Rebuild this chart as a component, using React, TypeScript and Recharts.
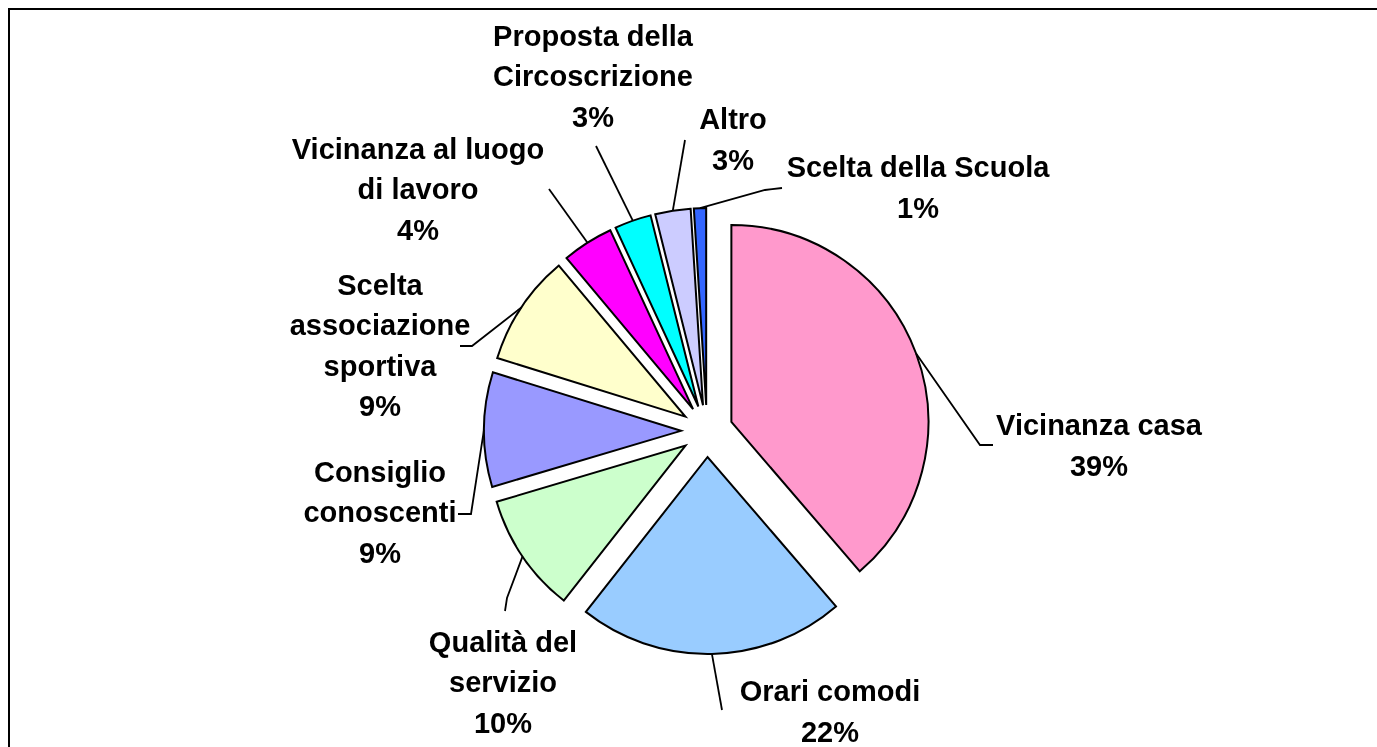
import { PieChart, Pie, Cell } from 'recharts';

const categories = [
  'Vicinanza casa',
  'Orari comodi',
  'Qualità del servizio',
  'Consiglio conoscenti',
  'Scelta associazione sportiva',
  'Vicinanza al luogo di lavoro',
  'Proposta della Circoscrizione',
  'Altro',
  'Scelta della Scuola',
];
const shares = [38.7, 21.9, 9.8, 9.4, 9.1, 4.2, 3.0, 2.9, 1.0];

// how each category name wraps in the original labels
const labelText = [
  ['Vicinanza casa'],
  ['Orari comodi'],
  ['Qualità del', 'servizio'],
  ['Consiglio', 'conoscenti'],
  ['Scelta', 'associazione', 'sportiva'],
  ['Vicinanza al luogo', 'di lavoro'],
  ['Proposta della', 'Circoscrizione'],
  ['Altro'],
  ['Scelta della Scuola'],
];

const colors = ['#FF99CC', '#99CCFF', '#CCFFCC', '#9999FF', '#FFFFCC', '#FF00FF', '#00FFFF', '#CCCCFF', '#3366FF'];

// label block centre and leader-line bend points, relative to the pie centre
const labelSpots = [
  { x: 392, y: 14, leader: [[273, 14], [286, 14]] },
  { x: 123, y: 280, leader: [[15, 279]] },
  { x: -204, y: 251, leader: [[-200, 167], [-202, 180]] },
  { x: -327, y: 81, leader: [[-236, 83], [-249, 83]] },
  { x: -327, y: -86, leader: [[-235, -85], [-247, -85]] },
  { x: -289, y: -242, leader: [[-158, -242]] },
  { x: -114, y: -355, leader: [[-111, -285]] },
  { x: 26, y: -292, leader: [[-22, -291]] },
  { x: 211, y: -244, leader: [[58, -241], [75, -243]] },
];

const data = categories.map((name, i) => ({ name, value: shares[i] }));

const RAD = Math.PI / 180;
const EXPLODE = 26;
const LINE = 40.5;
const FONT = 29;

const total = shares.reduce((a, b) => a + b, 0);
const midAngles = shares.map((v, i) => {
  const before = shares.slice(0, i).reduce((a, b) => a + b, 0);
  return 90 - ((before + v / 2) / total) * 360;
});

const push = (mid: number) => [EXPLODE * Math.cos(-mid * RAD), EXPLODE * Math.sin(-mid * RAD)];

const renderLabel = (props: any) => {
  const { cx, cy, midAngle, outerRadius, index, percent } = props;
  const [ox, oy] = push(midAngle);
  const sx = cx + ox + outerRadius * Math.cos(-midAngle * RAD);
  const sy = cy + oy + outerRadius * Math.sin(-midAngle * RAD);
  const spot = labelSpots[index];
  const pts = [[sx, sy], ...spot.leader.map(([x, y]) => [cx + x, cy + y])];
  const lines = [...labelText[index], `${Math.round(percent * 100)}%`];
  const top = cy + spot.y - ((lines.length - 1) * LINE) / 2;
  return (
    <g key={`lbl-${index}`}>
      <polyline points={pts.map((p) => p.join(',')).join(' ')} fill="none" stroke="#000" strokeWidth={1.8} />
      <text
        textAnchor="middle"
        fontFamily="'Liberation Sans', Arial, sans-serif"
        fontWeight="bold"
        fontSize={FONT}
        fill="#000"
      >
        {lines.map((t, i) => (
          <tspan key={i} x={cx + spot.x} y={top + i * LINE + FONT * 0.36}>
            {t}
          </tspan>
        ))}
      </text>
    </g>
  );
};

export default function App() {
  return (
    <div
      style={{
        position: 'fixed',
        left: 8,
        top: 8,
        width: 1369,
        height: 739,
        borderTop: '2px solid #000',
        borderLeft: '2px solid #000',
      }}
    >
      <PieChart width={1369} height={739} margin={{ top: 0, right: 0, bottom: 0, left: 0 }}>
        <Pie
          data={data}
          dataKey="value"
          nameKey="name"
          cx={697}
          cy={421}
          outerRadius={197}
          startAngle={90}
          endAngle={-270}
          stroke="#000"
          strokeWidth={2}
          label={renderLabel}
          labelLine={false}
          isAnimationActive={false}
        >
          {data.map((d, i) => {
            const [ox, oy] = push(midAngles[i]);
            return <Cell key={d.name} fill={colors[i]} transform={`translate(${ox},${oy})`} />;
          })}
        </Pie>
      </PieChart>
    </div>
  );
}
